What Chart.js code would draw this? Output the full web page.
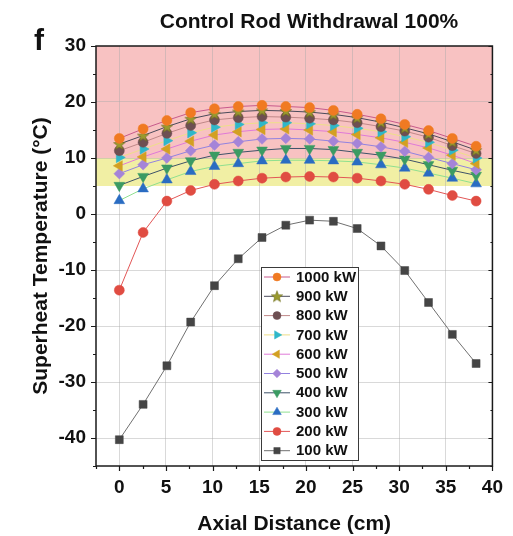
<!DOCTYPE html>
<html>
<head>
<meta charset="utf-8">
<script src="https://cdn.jsdelivr.net/npm/chart.js@4.4.1/dist/chart.umd.min.js"></script>
<style>
  html, body { margin: 0; padding: 0; background: #ffffff; }
  #wrap { width: 513px; height: 536px; position: relative; }
</style>
</head>
<body>
<div id="wrap"><canvas id="c" width="513" height="536"></canvas></div>
<script>
// ---- Data ----
const xs = [0, 2.55, 5.1, 7.65, 10.2, 12.75, 15.3, 17.85, 20.4, 22.95, 25.5, 28.05, 30.6, 33.15, 35.7, 38.25];
const seriesNames = ['1000 kW', '900 kW', '800 kW', '700 kW', '600 kW', '500 kW', '400 kW', '300 kW', '200 kW', '100 kW'];
const p1000 = [13.5, 15.2, 16.7, 18.1, 18.8, 19.2, 19.4, 19.2, 19.0, 18.5, 17.8, 17.0, 16.0, 14.9, 13.5, 12.1];
const p900  = [12.5, 14.0, 15.6, 17.0, 17.9, 18.3, 18.5, 18.4, 18.2, 17.8, 17.2, 16.4, 15.4, 14.3, 12.9, 11.4];
const p800  = [11.3, 12.8, 14.4, 15.8, 16.8, 17.2, 17.4, 17.3, 17.1, 16.8, 16.3, 15.6, 14.8, 13.7, 12.2, 10.8];
const p700  = [10.1, 11.6, 13.1, 14.5, 15.5, 16.0, 16.3, 16.3, 16.1, 15.8, 15.3, 14.7, 13.8, 12.8, 11.4, 10.0];
const p600  = [8.6, 10.2, 11.6, 13.0, 14.1, 14.7, 15.1, 15.2, 15.0, 14.7, 14.2, 13.6, 12.8, 11.8, 10.5, 9.0];
const p500  = [7.2, 8.8, 10.0, 11.3, 12.3, 12.9, 13.4, 13.5, 13.4, 13.0, 12.6, 12.0, 11.2, 10.1, 9.0, 7.9];
const p400  = [5.1, 6.7, 8.2, 9.5, 10.5, 11.0, 11.4, 11.7, 11.7, 11.5, 11.0, 10.5, 9.8, 8.8, 7.8, 6.9];
const p300  = [2.4, 4.5, 6.1, 7.6, 8.5, 9.0, 9.5, 9.6, 9.6, 9.5, 9.3, 8.8, 8.2, 7.3, 6.4, 5.4];
const p200  = [-13.6, -3.3, 2.3, 4.2, 5.3, 5.9, 6.4, 6.6, 6.7, 6.6, 6.4, 5.9, 5.3, 4.4, 3.3, 2.3];
const p100  = [-40.3, -34.0, -27.1, -19.3, -12.8, -8.0, -4.2, -2.0, -1.1, -1.3, -2.6, -5.7, -10.1, -15.8, -21.5, -26.7];
const seriesValues = [p1000, p900, p800, p700, p600, p500, p400, p300, p200, p100];
const yTickValues = [30, 20, 10, 0, -10, -20, -30, -40];
const xTickValues = [0, 5, 10, 15, 20, 25, 30, 35, 40];

// ---- Styles ----
const markerColors = ['#F07A22', '#9A9A2E', '#6E4F52', '#2FB7C9', '#D3A022', '#A584D8', '#3B9B63', '#2A6CC2', '#E04C42', '#454545'];
const lineColors   = ['#C85A8C', '#4A4A5A', '#C08888', '#EEDF88', '#E07AD8', '#9282E0', '#3E5268', '#8FE08F', '#E25656', '#707070'];
const FONT = '"Liberation Sans", Arial, Helvetica, sans-serif';

function makeStar(color, r) {
  const s = Math.ceil(r * 2 + 2);
  const cv = document.createElement('canvas');
  cv.width = s; cv.height = s;
  const g = cv.getContext('2d');
  const cx = s / 2, cy = s / 2 + 0.5;
  g.beginPath();
  for (let i = 0; i < 10; i++) {
    const rr = i % 2 === 0 ? r : r * 0.42;
    const a = -Math.PI / 2 + i * Math.PI / 5;
    const px = cx + Math.cos(a) * rr, py = cy + Math.sin(a) * rr;
    if (i === 0) g.moveTo(px, py); else g.lineTo(px, py);
  }
  g.closePath();
  g.fillStyle = color; g.fill();
  g.strokeStyle = '#6d6d1c'; g.lineWidth = 0.6; g.stroke();
  return cv;
}
const starImg = makeStar(markerColors[1], 6);

const styles = [
  { ps: 'circle', rot: 0, r: 5.0 },
  { ps: starImg, rot: 0, r: 6 },
  { ps: 'circle', rot: 0, r: 5.0 },
  { ps: 'triangle', rot: 90, r: 6.0 },
  { ps: 'triangle', rot: 270, r: 6.0 },
  { ps: 'rectRot', rot: 0, r: 5.4 },
  { ps: 'triangle', rot: 180, r: 6.2 },
  { ps: 'triangle', rot: 0, r: 6.2 },
  { ps: 'circle', rot: 0, r: 5.0 },
  { ps: 'rect', rot: 0, r: 5.6 }
];

const datasets = seriesNames.map((name, i) => ({
  label: name,
  data: xs.map((x, j) => ({ x: x, y: seriesValues[i][j] })),
  borderColor: lineColors[i],
  borderWidth: 1,
  pointStyle: styles[i].ps,
  pointRotation: styles[i].rot,
  pointRadius: styles[i].r,
  pointBackgroundColor: markerColors[i],
  pointBorderColor: markerColors[i],
  pointBorderWidth: 0.5,
  tension: 0,
  order: i
}));

const decor = {
  id: 'decor',
  beforeDraw(chart) {
    const { ctx, chartArea: a, scales: { y } } = chart;
    ctx.save();
    const y30 = y.getPixelForValue(30), y10 = y.getPixelForValue(10), y5 = y.getPixelForValue(5);
    ctx.fillStyle = '#F8C2C2';
    ctx.fillRect(a.left, y30, a.right - a.left, y10 - y30);
    ctx.fillStyle = '#F1EFA4';
    ctx.fillRect(a.left, y10, a.right - a.left, y5 - y10);
    ctx.restore();
  },
  afterDraw(chart) {
    const { ctx, chartArea: a, scales: { x, y } } = chart;
    ctx.save();
    // frame
    ctx.strokeStyle = '#1a1a1a';
    ctx.lineWidth = 1.5;
    ctx.strokeRect(a.left, a.top, a.right - a.left, a.bottom - a.top);
    // ticks
    ctx.lineWidth = 1.2;
    ctx.beginPath();
    for (let v = -45; v <= 30; v += 5) {
      const py = Math.round(y.getPixelForValue(v)) + 0.5;
      const len = (v % 10 === 0) ? 5 : 3;
      ctx.moveTo(a.left - len, py); ctx.lineTo(a.left, py);
      ctx.moveTo(a.right, py); ctx.lineTo(a.right - (v % 10 === 0 ? 4 : 2), py);
    }
    for (let v = -2.5; v <= 40.01; v += 2.5) {
      const px = Math.round(x.getPixelForValue(v)) + 0.5;
      const len = (Math.abs(v % 5) < 0.01) ? 5 : 3;
      ctx.moveTo(px, a.bottom); ctx.lineTo(px, a.bottom + len);
    }
    ctx.stroke();

    // legend
    const lx = 261, ly = 267, lw = 97, lh = 193;
    ctx.fillStyle = '#ffffff';
    ctx.fillRect(lx, ly, lw, lh);
    ctx.strokeStyle = '#3a3a3a';
    ctx.lineWidth = 1;
    ctx.strokeRect(lx + 0.5, ly + 0.5, lw, lh);
    chart.data.datasets.forEach((ds, i) => {
      const cy = 277 + i * 19.3;
      ctx.strokeStyle = ds.borderColor;
      ctx.lineWidth = 1;
      ctx.beginPath();
      ctx.moveTo(264, cy); ctx.lineTo(290, cy);
      ctx.stroke();
      ctx.fillStyle = ds.pointBackgroundColor;
      ctx.strokeStyle = ds.pointBorderColor;
      ctx.lineWidth = 0.5;
      Chart.helpers.drawPoint(ctx, {
        pointStyle: ds.pointStyle, rotation: ds.pointRotation,
        radius: ds.pointRadius * 0.8, borderWidth: 0.5
      }, 277, cy);
      ctx.fillStyle = '#111111';
      ctx.font = 'bold 15px ' + FONT;
      ctx.textAlign = 'left';
      ctx.textBaseline = 'middle';
      ctx.fillText(ds.label, 296, cy + 0.5);
    });

    // title
    ctx.fillStyle = '#111111';
    ctx.textAlign = 'center';
    ctx.textBaseline = 'alphabetic';
    ctx.font = 'bold 21px ' + FONT;
    ctx.fillText('Control Rod Withdrawal 100%', 309, 28);
    // panel label
    ctx.textAlign = 'left';
    ctx.font = 'bold 30px ' + FONT;
    ctx.fillText('f', 34, 50);
    // x axis title
    ctx.textAlign = 'center';
    ctx.font = 'bold 21px ' + FONT;
    ctx.fillText('Axial Distance (cm)', (a.left + a.right) / 2, 530);
    // y axis title
    ctx.save();
    ctx.translate(47, (a.top + a.bottom) / 2);
    ctx.rotate(-Math.PI / 2);
    ctx.textBaseline = 'alphabetic';
    ctx.fillText('Superheat Temperature (°C)', 0, 0);
    ctx.restore();
    ctx.restore();
  }
};

new Chart(document.getElementById('c'), {
  type: 'line',
  data: { datasets: datasets },
  options: {
    responsive: false,
    animation: false,
    devicePixelRatio: 1,
    layout: { padding: { left: 0, right: 17, top: 46, bottom: 0 } },
    plugins: { legend: { display: false }, tooltip: { enabled: false }, title: { display: false } },
    scales: {
      x: {
        type: 'linear', min: -2.5, max: 40,
        afterBuildTicks: (s) => { s.ticks = xTickValues.map(v => ({ value: v })); },
        afterFit: (s) => { s.height = 70; },
        grid: {
          color: (c) => (c.tick && (c.tick.value === 40) ? 'rgba(0,0,0,0)' : 'rgba(170,170,170,0.45)'),
          lineWidth: 1, drawTicks: false
        },
        border: { display: false },
        ticks: { padding: 10, color: '#111111', font: { family: FONT, size: 19, weight: 'bold' }, maxRotation: 0, autoSkip: false }
      },
      y: {
        type: 'linear', min: -45, max: 30,
        afterBuildTicks: (s) => { s.ticks = yTickValues.map(v => ({ value: v })); },
        afterFit: (s) => { s.width = 96; },
        grid: {
          color: (c) => (c.tick && (c.tick.value === 30) ? 'rgba(0,0,0,0)' : 'rgba(170,170,170,0.45)'),
          lineWidth: 1, drawTicks: false
        },
        border: { display: false },
        ticks: { padding: 10, color: '#111111', font: { family: FONT, size: 19, weight: 'bold' }, autoSkip: false }
      }
    }
  },
  plugins: [decor]
});
</script>
</body>
</html>
